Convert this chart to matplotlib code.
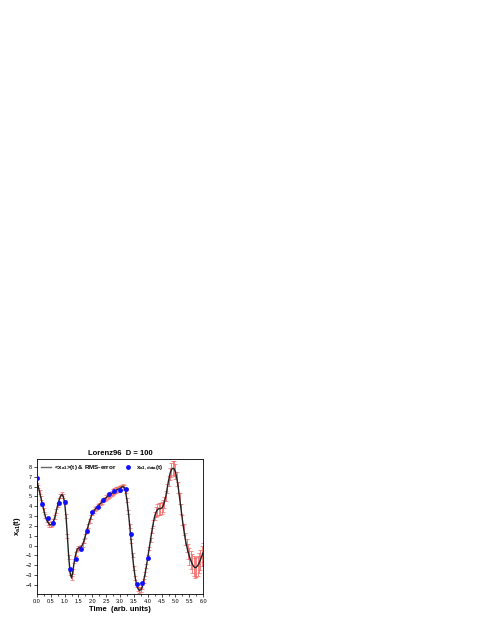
import numpy as np
import matplotlib.pyplot as plt
from matplotlib.ticker import MultipleLocator

plt.rcParams['font.family'] = ['Liberation Sans', 'DejaVu Sans']
plt.rcParams['mathtext.fontset'] = 'custom'
plt.rcParams['mathtext.rm'] = 'Liberation Sans:bold'
plt.rcParams['mathtext.it'] = 'Liberation Sans:bold'
plt.rcParams['mathtext.bf'] = 'Liberation Sans:bold'
plt.rcParams['mathtext.default'] = 'rm'

# model mean <x_a1>(t), step 0.05
t_model = [i * 0.05 for i in range(121)]
x_mean = [6.6, 6.0, 5.4, 4.8, 4.2, 3.6, 3.0, 2.6, 2.35, 2.15,
          2.1, 2.2, 2.45, 2.9, 3.5, 4.1, 4.6, 5.0, 5.2, 5.0,
          4.4, 3.0, 1.0, -1.2, -2.8, -3.3, -2.6, -1.6, -0.9, -0.4,
          -0.25, -0.2, -0.15, 0.1, 0.5, 1.0, 1.5, 2.0, 2.5, 2.9,
          3.3, 3.5, 3.7, 3.85, 4.0, 4.15, 4.3, 4.45, 4.6, 4.75,
          4.85, 5.0, 5.1, 5.2, 5.3, 5.4, 5.5, 5.6, 5.7, 5.75,
          5.8, 5.9, 6.0, 5.9, 5.5, 4.6, 3.4, 2.0, 0.5, -1.0,
          -2.3, -3.3, -4.0, -4.4, -4.55, -4.5, -4.2, -3.6, -2.9, -2.1,
          -1.2, -0.3, 0.6, 1.5, 2.3, 3.0, 3.4, 3.65, 3.75, 3.75,
          3.8, 4.0, 4.4, 5.0, 5.8, 6.6, 7.3, 7.7, 7.85, 7.8,
          7.5, 6.8, 5.9, 4.8, 3.7, 2.6, 1.6, 0.7, 0.0, -0.6,
          -1.1, -1.5, -1.85, -2.1, -2.25, -2.2, -2.05, -1.8, -1.45, -1.05,
          -0.7]
# RMS error
rms = [0.2, 0.2, 0.2, 0.2, 0.2, 0.2, 0.2, 0.2, 0.25, 0.25,
       0.25, 0.25, 0.2, 0.2, 0.2, 0.2, 0.2, 0.2, 0.2, 0.2,
       0.2, 0.2, 0.2, 0.2, 0.2, 0.25, 0.25, 0.2, 0.2, 0.2,
       0.2, 0.2, 0.2, 0.2, 0.2, 0.2, 0.2, 0.2, 0.2, 0.2,
       0.2, 0.2, 0.2, 0.2, 0.2, 0.2, 0.2, 0.2, 0.2, 0.2,
       0.25, 0.25, 0.25, 0.25, 0.25, 0.3, 0.3, 0.3, 0.3, 0.3,
       0.3, 0.3, 0.3, 0.25, 0.2, 0.2, 0.2, 0.2, 0.2, 0.2,
       0.2, 0.2, 0.2, 0.2, 0.25, 0.25, 0.2, 0.2, 0.2, 0.2,
       0.2, 0.2, 0.2, 0.25, 0.3, 0.4, 0.5, 0.6, 0.6, 0.6,
       0.6, 0.6, 0.55, 0.5, 0.5, 0.5, 0.6, 0.7, 0.7, 0.75,
       0.75, 0.7, 0.6, 0.55, 0.5, 0.5, 0.55, 0.6, 0.7, 0.8,
       0.85, 0.9, 0.95, 1.0, 1.0, 1.0, 1.0, 1.0, 1.0, 1.0,
       1.0]

# data points x_a1,data(t)
t_data = [0.0, 0.2, 0.4, 0.6, 0.8, 1.0, 1.2, 1.4, 1.6, 1.8, 2.0,
          2.2, 2.4, 2.6, 2.8, 3.0, 3.2, 3.4, 3.6, 3.8, 4.0]
x_data = [6.9, 4.2, 2.75, 2.3, 4.3, 4.45, -2.35, -1.35, -0.4, 1.45, 3.4,
          3.95, 4.6, 5.2, 5.5, 5.65, 5.75, 1.15, -3.9, -3.85, -1.3]

fig = plt.figure(figsize=(4.85, 6.27), dpi=100)
ax = fig.add_axes([0.076, 0.053, 0.343, 0.215])

ax.errorbar(t_model, x_mean, yerr=rms, fmt='none', ecolor='#f06060',
            elinewidth=0.7, capsize=1.5, capthick=0.6, alpha=0.8, zorder=1)
ax.plot(t_model, x_mean, color='#222222', lw=1.0, zorder=2)
# legend handle for the mean curve is drawn gray
ax.plot([], [], color='#666666', lw=1.0, label='<x$_{a1}$>(t) & RMS-error')
ax.plot(t_data, x_data, 'o', color='#1010ff', ms=3.5, mec='none', zorder=3,
        label='x$_{a1,data}$(t)')

ax.set_xlim(0, 6)
ax.set_ylim(-4.9, 8.8)
ax.xaxis.set_major_locator(MultipleLocator(0.5))
ax.xaxis.set_minor_locator(MultipleLocator(0.25))
ax.yaxis.set_major_locator(MultipleLocator(1))
ax.tick_params(labelsize=4, length=2, width=0.5, pad=1.5)
ax.tick_params(which='minor', length=1.2, width=0.5)
for s in ax.spines.values():
    s.set_linewidth(0.6)

ax.set_title('Lorenz96  D = 100', fontsize=5.5, fontweight='bold', pad=3)
ax.set_xlabel('Time  (arb. units)', fontsize=5.5, fontweight='bold', labelpad=2)
ax.set_ylabel('x$_{a1}$(t)', fontsize=5.5, fontweight='bold', labelpad=2)

leg = ax.legend(loc='upper left', ncol=2, fontsize=4.5, frameon=False,
                handlelength=1.6, columnspacing=1.0, borderaxespad=0.3,
                handletextpad=0.5, markerscale=1.0)
for txt in leg.get_texts():
    txt.set_fontweight('bold')

plt.savefig('out.png', dpi=100)
